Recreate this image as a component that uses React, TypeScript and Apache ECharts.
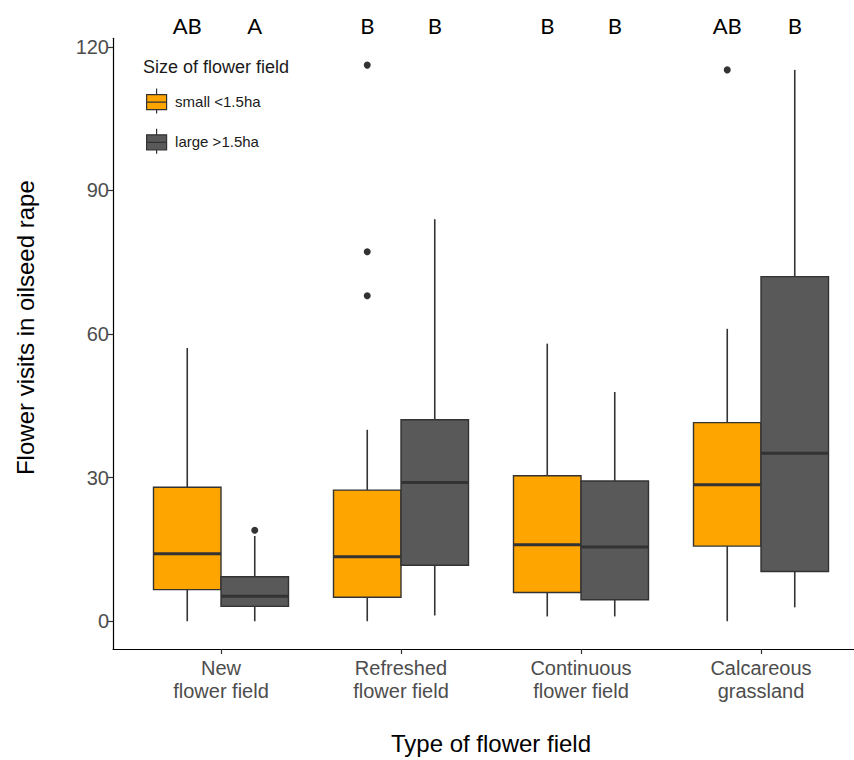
import React, { useEffect, useRef } from "react";
import * as echarts from "echarts";

const categories = ["New\nflower field", "Refreshed\nflower field", "Continuous\nflower field", "Calcareous\ngrassland"];
const sizeGroups = ["small <1.5ha", "large >1.5ha"];
// [low whisker, Q1, median, Q3, high whisker]
const smallStats = [
  [0, 6.6, 14.1, 28.0, 57.1],
  [0, 5.0, 13.5, 27.4, 40.0],
  [1.0, 6.0, 16.0, 30.4, 58.0],
  [0, 15.7, 28.5, 41.5, 61.1],
];
const largeStats = [
  [0, 3.1, 5.2, 9.3, 17.8],
  [1.2, 11.7, 29.0, 42.1, 84.0],
  [1.0, 4.5, 15.5, 29.3, 47.9],
  [2.9, 10.4, 35.1, 72.0, 115.2],
];
// [category index, value]
const smallOutliers = [
  [1, 116.2],
  [1, 77.2],
  [1, 68.0],
  [3, 115.2],
];
const largeOutliers = [[0, 19.0]];
const smallLetters = ["AB", "B", "B", "AB"];
const largeLetters = ["A", "B", "B", "B"];
const yTicks = [0, 30, 60, 90, 120];
const Y_MIN = -5.8;
const Y_MAX = 121.8;

const COLORS = ["#FFA500", "#595959"];
const DODGE = [-0.1875, 0.1875];
const BOX_W = 0.375;
const DARK = "#333333";

function boxSeries(name: string, stats: number[][], gi: number) {
  return {
    type: "custom",
    name,
    color: COLORS[gi],
    data: stats.map((s, i) => [i + 1, ...s]),
    renderItem: (params: any, api: any) => {
      const x = api.value(0) + DODGE[gi];
      const low = api.value(1), q1 = api.value(2), med = api.value(3), q3 = api.value(4), high = api.value(5);
      const half = api.size([BOX_W, 0])[0] / 2;
      const pLow = api.coord([x, low]);
      const pQ1 = api.coord([x, q1]);
      const pMed = api.coord([x, med]);
      const pQ3 = api.coord([x, q3]);
      const pHigh = api.coord([x, high]);
      const cx = pMed[0];
      return {
        type: "group",
        children: [
          { type: "line", shape: { x1: cx, y1: pQ3[1], x2: cx, y2: pHigh[1] }, style: { stroke: DARK, lineWidth: 1.6 } },
          { type: "line", shape: { x1: cx, y1: pQ1[1], x2: cx, y2: pLow[1] }, style: { stroke: DARK, lineWidth: 1.6 } },
          {
            type: "rect",
            shape: { x: cx - half, y: pQ3[1], width: half * 2, height: pQ1[1] - pQ3[1] },
            style: { fill: COLORS[gi], stroke: DARK, lineWidth: 1.4 },
          },
          { type: "line", shape: { x1: cx - half, y1: pMed[1], x2: cx + half, y2: pMed[1] }, style: { stroke: DARK, lineWidth: 3 } },
        ],
      };
    },
  };
}

function outlierSeries(name: string, pts: number[][], gi: number) {
  return {
    type: "custom",
    name,
    color: COLORS[gi],
    data: pts.map((p) => [p[0] + 1, p[1]]),
    renderItem: (params: any, api: any) => {
      const p = api.coord([api.value(0) + DODGE[gi], api.value(1)]);
      return { type: "circle", shape: { cx: p[0], cy: p[1], r: 3.5 }, style: { fill: DARK } };
    },
  };
}

function letterSeries(name: string, letters: string[], gi: number) {
  return {
    type: "custom",
    name,
    color: COLORS[gi],
    clip: false,
    data: letters.map((l, i) => [i + 1, Y_MAX]),
    renderItem: (params: any, api: any) => {
      const p = api.coord([api.value(0) + DODGE[gi], api.value(1)]);
      return {
        type: "text",
        x: p[0],
        y: p[1] - 13,
        style: {
          text: letters[params.dataIndex],
          fill: "#000",
          font: "22px Lato, 'Open Sans', sans-serif",
          align: "center",
          verticalAlign: "middle",
        },
      };
    },
  };
}

export default function App() {
  const ref = useRef<HTMLDivElement>(null);
  useEffect(() => {
    if (!ref.current) return;
    const chart = echarts.init(ref.current, null, { renderer: "svg" });
    const font = "'Liberation Sans', Arial, sans-serif";
    chart.setOption({
      animation: false,
      backgroundColor: "#fff",
      textStyle: { fontFamily: font },
      title: {
        text: "Size of flower field",
        left: 143,
        top: 58,
        padding: 0,
        textStyle: { fontSize: 18, fontWeight: "normal", color: "#1a1a1a", fontFamily: font },
      },
      legend: {
        data: sizeGroups,
        orient: "vertical",
        left: 146,
        top: 88,
        padding: 0,
        itemWidth: 21,
        itemHeight: 25,
        itemGap: 14,
        icon: "path://M0,6H20V21H0Z M10,0V6 M10,21V25 M0,13.5H20",
        itemStyle: { borderColor: DARK, borderWidth: 1.2 },
        textStyle: { fontSize: 15, color: "#1a1a1a", fontFamily: font, padding: [0, 0, 0, 3] },
        selectedMode: false,
      },
      grid: { left: 113, top: 38.3, width: 756, height: 615, containLabel: false },
      xAxis: {
        type: "value",
        min: 0.4,
        max: 4.6,
        name: "Type of flower field",
        nameLocation: "middle",
        nameGap: 82,
        nameTextStyle: { fontSize: 24, color: "#000", fontFamily: font },
        splitLine: { show: false },
        axisLine: { show: true, onZero: false, lineStyle: { color: "#000", width: 1.2 } },
        axisTick: { show: true, customValues: [1, 2, 3, 4], length: 5, lineStyle: { color: DARK, width: 1.2 } },
        axisLabel: {
          customValues: [1, 2, 3, 4],
          formatter: (v: number) => categories[Math.round(v) - 1] ?? "",
          fontSize: 20,
          lineHeight: 23,
          color: "#4d4d4d",
          margin: 7,
        },
      },
      yAxis: {
        type: "value",
        min: Y_MIN,
        max: Y_MAX,
        name: "Flower visits in oilseed rape",
        nameLocation: "middle",
        nameGap: 76,
        nameTextStyle: { fontSize: 24, color: "#000", fontFamily: font, padding: [0, 0, 0, 32] },
        splitLine: { show: false },
        axisLine: { show: true, onZero: false, lineStyle: { color: "#000", width: 1.2 } },
        axisTick: { show: true, customValues: yTicks, length: 5, lineStyle: { color: DARK, width: 1.2 } },
        axisLabel: { customValues: yTicks, fontSize: 20, color: "#4d4d4d", margin: 4 },
      },
      series: [
        boxSeries(sizeGroups[0], smallStats, 0),
        boxSeries(sizeGroups[1], largeStats, 1),
        outlierSeries(sizeGroups[0], smallOutliers, 0),
        outlierSeries(sizeGroups[1], largeOutliers, 1),
        letterSeries(sizeGroups[0], smallLetters, 0),
        letterSeries(sizeGroups[1], largeLetters, 1),
      ],
    });
    return () => chart.dispose();
  }, []);
  return (
    <div style={{ position: "absolute", left: 0, top: 0, width: 854, height: 760, overflow: "hidden" }}>
      <div ref={ref} style={{ width: 880, height: 760 }} />
    </div>
  );
}
